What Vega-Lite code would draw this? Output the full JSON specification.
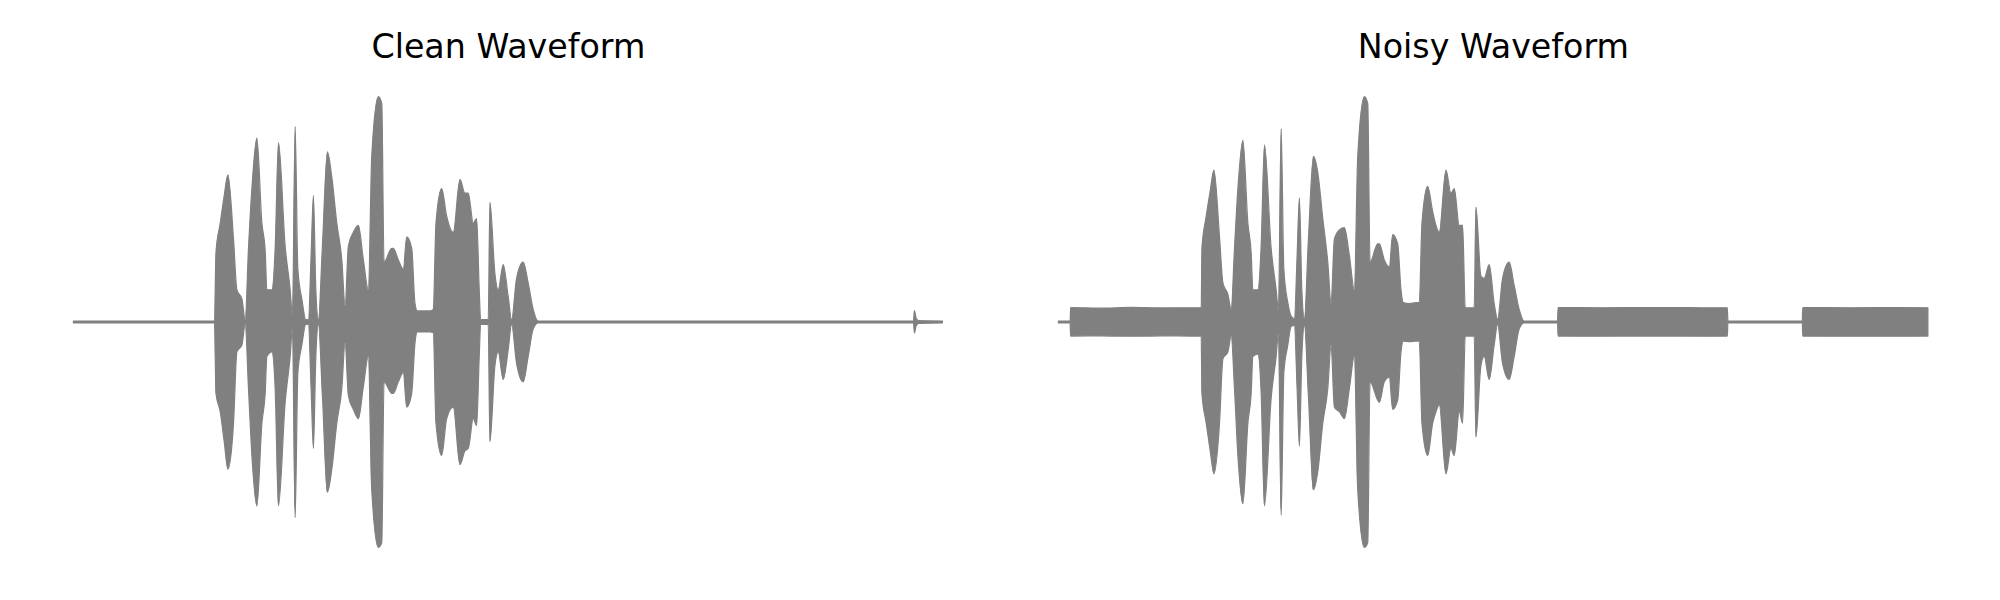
{
  "$schema": "https://vega.github.io/schema/vega-lite/v6.json",
  "background": "white",
  "padding": {"left": 72.4, "top": 30, "right": 0, "bottom": 0},
  "spacing": 114,
  "config": {
    "view": {"stroke": null},
    "title": {"font": "DejaVu Sans", "fontSize": 33.3, "fontWeight": "normal", "color": "#000000", "anchor": "middle", "baseline": "alphabetic", "offset": 27}
  },
  "datasets": {
    "clean": [
      {"t": 0, "hi": 0.004, "lo": -0.004},
      {"t": 1.413, "hi": 0.004, "lo": -0.004},
      {"t": 1.42, "hi": 0.15, "lo": -0.15},
      {"t": 1.427, "hi": 0.30, "lo": -0.31},
      {"t": 1.47, "hi": 0.43, "lo": -0.39},
      {"t": 1.51, "hi": 0.55, "lo": -0.52},
      {"t": 1.547, "hi": 0.64, "lo": -0.64},
      {"t": 1.603, "hi": 0.36, "lo": -0.44},
      {"t": 1.637, "hi": 0.14, "lo": -0.13},
      {"t": 1.687, "hi": 0.10, "lo": -0.10},
      {"t": 1.72, "hi": 0.01, "lo": -0.01},
      {"t": 1.753, "hi": 0.32, "lo": -0.29},
      {"t": 1.787, "hi": 0.58, "lo": -0.58},
      {"t": 1.837, "hi": 0.80, "lo": -0.80},
      {"t": 1.887, "hi": 0.43, "lo": -0.44},
      {"t": 1.92, "hi": 0.31, "lo": -0.31},
      {"t": 1.937, "hi": 0.14, "lo": -0.15},
      {"t": 1.987, "hi": 0.14, "lo": -0.13},
      {"t": 2.02, "hi": 0.32, "lo": -0.29},
      {"t": 2.053, "hi": 0.78, "lo": -0.80},
      {"t": 2.12, "hi": 0.33, "lo": -0.35},
      {"t": 2.17, "hi": 0.14, "lo": -0.15},
      {"t": 2.193, "hi": 0.03, "lo": -0.03},
      {"t": 2.22, "hi": 0.85, "lo": -0.85},
      {"t": 2.247, "hi": 0.23, "lo": -0.22},
      {"t": 2.287, "hi": 0.10, "lo": -0.10},
      {"t": 2.327, "hi": 0.01, "lo": -0.01},
      {"t": 2.353, "hi": 0.01, "lo": -0.01},
      {"t": 2.38, "hi": 0.29, "lo": -0.29},
      {"t": 2.403, "hi": 0.55, "lo": -0.55},
      {"t": 2.427, "hi": 0.14, "lo": -0.15},
      {"t": 2.453, "hi": 0.01, "lo": -0.01},
      {"t": 2.493, "hi": 0.33, "lo": -0.32},
      {"t": 2.543, "hi": 0.74, "lo": -0.74},
      {"t": 2.587, "hi": 0.63, "lo": -0.64},
      {"t": 2.637, "hi": 0.43, "lo": -0.44},
      {"t": 2.687, "hi": 0.27, "lo": -0.29},
      {"t": 2.72, "hi": 0.07, "lo": -0.09},
      {"t": 2.753, "hi": 0.33, "lo": -0.32},
      {"t": 2.803, "hi": 0.39, "lo": -0.38},
      {"t": 2.853, "hi": 0.42, "lo": -0.42},
      {"t": 2.903, "hi": 0.27, "lo": -0.28},
      {"t": 2.953, "hi": 0.14, "lo": -0.15},
      {"t": 2.987, "hi": 0.72, "lo": -0.73},
      {"t": 3.053, "hi": 0.98, "lo": -0.98},
      {"t": 3.087, "hi": 0.95, "lo": -0.96},
      {"t": 3.11, "hi": 0.26, "lo": -0.26},
      {"t": 3.187, "hi": 0.32, "lo": -0.31},
      {"t": 3.203, "hi": 0.32, "lo": -0.31},
      {"t": 3.253, "hi": 0.27, "lo": -0.26},
      {"t": 3.303, "hi": 0.23, "lo": -0.22},
      {"t": 3.337, "hi": 0.37, "lo": -0.37},
      {"t": 3.387, "hi": 0.32, "lo": -0.31},
      {"t": 3.42, "hi": 0.08, "lo": -0.09},
      {"t": 3.443, "hi": 0.048, "lo": -0.043},
      {"t": 3.57, "hi": 0.048, "lo": -0.043},
      {"t": 3.603, "hi": 0.055, "lo": -0.046},
      {"t": 3.63, "hi": 0.43, "lo": -0.44},
      {"t": 3.687, "hi": 0.58, "lo": -0.58},
      {"t": 3.737, "hi": 0.46, "lo": -0.42},
      {"t": 3.803, "hi": 0.39, "lo": -0.37},
      {"t": 3.87, "hi": 0.62, "lo": -0.62},
      {"t": 3.92, "hi": 0.56, "lo": -0.56},
      {"t": 3.953, "hi": 0.56, "lo": -0.55},
      {"t": 4.003, "hi": 0.43, "lo": -0.42},
      {"t": 4.037, "hi": 0.45, "lo": -0.45},
      {"t": 4.063, "hi": 0.14, "lo": -0.15},
      {"t": 4.077, "hi": 0.01, "lo": -0.01},
      {"t": 4.153, "hi": 0.01, "lo": -0.01},
      {"t": 4.17, "hi": 0.52, "lo": -0.52},
      {"t": 4.22, "hi": 0.21, "lo": -0.19},
      {"t": 4.253, "hi": 0.14, "lo": -0.13},
      {"t": 4.303, "hi": 0.25, "lo": -0.25},
      {"t": 4.353, "hi": 0.11, "lo": -0.12},
      {"t": 4.387, "hi": 0.01, "lo": -0.01},
      {"t": 4.437, "hi": 0.19, "lo": -0.18},
      {"t": 4.503, "hi": 0.26, "lo": -0.26},
      {"t": 4.553, "hi": 0.17, "lo": -0.15},
      {"t": 4.603, "hi": 0.055, "lo": -0.03},
      {"t": 4.653, "hi": 0.004, "lo": -0.004},
      {"t": 8.41, "hi": 0.004, "lo": -0.004},
      {"t": 8.42, "hi": 0.05, "lo": -0.048},
      {"t": 8.435, "hi": 0.02, "lo": -0.02},
      {"t": 8.46, "hi": 0.006, "lo": -0.006},
      {"t": 8.70, "hi": 0.004, "lo": -0.004}
    ],
    "noisy": [
      {"t": 0, "hi": 0.004, "lo": -0.004},
      {"t": 0.117, "hi": 0.004, "lo": -0.004},
      {"t": 0.123, "hi": 0.063, "lo": -0.061},
      {"t": 0.43, "hi": 0.060, "lo": -0.060},
      {"t": 0.73, "hi": 0.064, "lo": -0.062},
      {"t": 1.03, "hi": 0.061, "lo": -0.060},
      {"t": 1.33, "hi": 0.062, "lo": -0.061},
      {"t": 1.43, "hi": 0.062, "lo": -0.061},
      {"t": 1.437, "hi": 0.32, "lo": -0.31},
      {"t": 1.48, "hi": 0.46, "lo": -0.44},
      {"t": 1.52, "hi": 0.57, "lo": -0.56},
      {"t": 1.557, "hi": 0.66, "lo": -0.66},
      {"t": 1.613, "hi": 0.37, "lo": -0.44},
      {"t": 1.647, "hi": 0.17, "lo": -0.16},
      {"t": 1.697, "hi": 0.12, "lo": -0.13},
      {"t": 1.73, "hi": 0.055, "lo": -0.06},
      {"t": 1.763, "hi": 0.32, "lo": -0.29},
      {"t": 1.797, "hi": 0.58, "lo": -0.58},
      {"t": 1.847, "hi": 0.79, "lo": -0.79},
      {"t": 1.897, "hi": 0.43, "lo": -0.44},
      {"t": 1.93, "hi": 0.30, "lo": -0.31},
      {"t": 1.947, "hi": 0.14, "lo": -0.15},
      {"t": 1.997, "hi": 0.14, "lo": -0.14},
      {"t": 2.03, "hi": 0.33, "lo": -0.31},
      {"t": 2.063, "hi": 0.77, "lo": -0.80},
      {"t": 2.13, "hi": 0.32, "lo": -0.33},
      {"t": 2.18, "hi": 0.14, "lo": -0.15},
      {"t": 2.203, "hi": 0.05, "lo": -0.05},
      {"t": 2.23, "hi": 0.84, "lo": -0.84},
      {"t": 2.257, "hi": 0.23, "lo": -0.22},
      {"t": 2.297, "hi": 0.084, "lo": -0.10},
      {"t": 2.33, "hi": 0.026, "lo": -0.02},
      {"t": 2.363, "hi": 0.015, "lo": -0.015},
      {"t": 2.39, "hi": 0.29, "lo": -0.29},
      {"t": 2.413, "hi": 0.54, "lo": -0.54},
      {"t": 2.437, "hi": 0.14, "lo": -0.15},
      {"t": 2.463, "hi": 0.015, "lo": -0.015},
      {"t": 2.503, "hi": 0.36, "lo": -0.32},
      {"t": 2.553, "hi": 0.72, "lo": -0.73},
      {"t": 2.597, "hi": 0.65, "lo": -0.65},
      {"t": 2.647, "hi": 0.45, "lo": -0.44},
      {"t": 2.697, "hi": 0.26, "lo": -0.29},
      {"t": 2.73, "hi": 0.08, "lo": -0.10},
      {"t": 2.763, "hi": 0.36, "lo": -0.37},
      {"t": 2.813, "hi": 0.40, "lo": -0.39},
      {"t": 2.863, "hi": 0.41, "lo": -0.42},
      {"t": 2.913, "hi": 0.29, "lo": -0.29},
      {"t": 2.963, "hi": 0.14, "lo": -0.15},
      {"t": 2.997, "hi": 0.72, "lo": -0.73},
      {"t": 3.063, "hi": 0.98, "lo": -0.98},
      {"t": 3.097, "hi": 0.95, "lo": -0.96},
      {"t": 3.12, "hi": 0.26, "lo": -0.26},
      {"t": 3.197, "hi": 0.34, "lo": -0.34},
      {"t": 3.213, "hi": 0.34, "lo": -0.35},
      {"t": 3.263, "hi": 0.27, "lo": -0.26},
      {"t": 3.313, "hi": 0.24, "lo": -0.24},
      {"t": 3.347, "hi": 0.38, "lo": -0.38},
      {"t": 3.397, "hi": 0.34, "lo": -0.34},
      {"t": 3.43, "hi": 0.14, "lo": -0.13},
      {"t": 3.453, "hi": 0.084, "lo": -0.083},
      {"t": 3.513, "hi": 0.08, "lo": -0.085},
      {"t": 3.58, "hi": 0.084, "lo": -0.083},
      {"t": 3.613, "hi": 0.084, "lo": -0.083},
      {"t": 3.64, "hi": 0.43, "lo": -0.44},
      {"t": 3.697, "hi": 0.59, "lo": -0.58},
      {"t": 3.747, "hi": 0.48, "lo": -0.44},
      {"t": 3.78, "hi": 0.42, "lo": -0.39},
      {"t": 3.813, "hi": 0.39, "lo": -0.36},
      {"t": 3.88, "hi": 0.66, "lo": -0.66},
      {"t": 3.93, "hi": 0.56, "lo": -0.55},
      {"t": 3.963, "hi": 0.58, "lo": -0.58},
      {"t": 4.013, "hi": 0.42, "lo": -0.39},
      {"t": 4.047, "hi": 0.42, "lo": -0.44},
      {"t": 4.073, "hi": 0.062, "lo": -0.061},
      {"t": 4.163, "hi": 0.062, "lo": -0.061},
      {"t": 4.18, "hi": 0.50, "lo": -0.50},
      {"t": 4.23, "hi": 0.20, "lo": -0.19},
      {"t": 4.263, "hi": 0.19, "lo": -0.15},
      {"t": 4.313, "hi": 0.25, "lo": -0.25},
      {"t": 4.363, "hi": 0.08, "lo": -0.10},
      {"t": 4.397, "hi": 0.012, "lo": -0.01},
      {"t": 4.447, "hi": 0.19, "lo": -0.18},
      {"t": 4.513, "hi": 0.26, "lo": -0.25},
      {"t": 4.563, "hi": 0.16, "lo": -0.15},
      {"t": 4.613, "hi": 0.055, "lo": -0.03},
      {"t": 4.663, "hi": 0.004, "lo": -0.004},
      {"t": 4.997, "hi": 0.004, "lo": -0.004},
      {"t": 5.003, "hi": 0.063, "lo": -0.061},
      {"t": 5.43, "hi": 0.062, "lo": -0.062},
      {"t": 5.93, "hi": 0.063, "lo": -0.061},
      {"t": 6.43, "hi": 0.062, "lo": -0.062},
      {"t": 6.697, "hi": 0.062, "lo": -0.061},
      {"t": 6.703, "hi": 0.004, "lo": -0.004},
      {"t": 7.447, "hi": 0.004, "lo": -0.004},
      {"t": 7.453, "hi": 0.063, "lo": -0.061},
      {"t": 7.93, "hi": 0.062, "lo": -0.062},
      {"t": 8.43, "hi": 0.063, "lo": -0.062},
      {"t": 8.705, "hi": 0.062, "lo": -0.061}
    ]
  },
  "hconcat": [
    {
      "title": "Clean Waveform",
      "width": 870,
      "height": 460,
      "data": {"name": "clean"},
      "mark": {"type": "area", "color": "#808080", "stroke": "#808080", "strokeWidth": 1.2, "strokeJoin": "round", "interpolate": "monotone"},
      "encoding": {
        "x": {"field": "t", "type": "quantitative", "axis": null, "scale": {"domain": [0, 8.71], "nice": false, "zero": false}},
        "y": {"field": "hi", "type": "quantitative", "axis": null, "scale": {"domain": [-1, 1], "nice": false}},
        "y2": {"field": "lo"}
      }
    },
    {
      "title": "Noisy Waveform",
      "width": 870,
      "height": 460,
      "data": {"name": "noisy"},
      "mark": {"type": "area", "color": "#808080", "stroke": "#808080", "strokeWidth": 1.2, "strokeJoin": "round", "interpolate": "monotone"},
      "encoding": {
        "x": {"field": "t", "type": "quantitative", "axis": null, "scale": {"domain": [0, 8.71], "nice": false, "zero": false}},
        "y": {"field": "hi", "type": "quantitative", "axis": null, "scale": {"domain": [-1, 1], "nice": false}},
        "y2": {"field": "lo"}
      }
    }
  ]
}
